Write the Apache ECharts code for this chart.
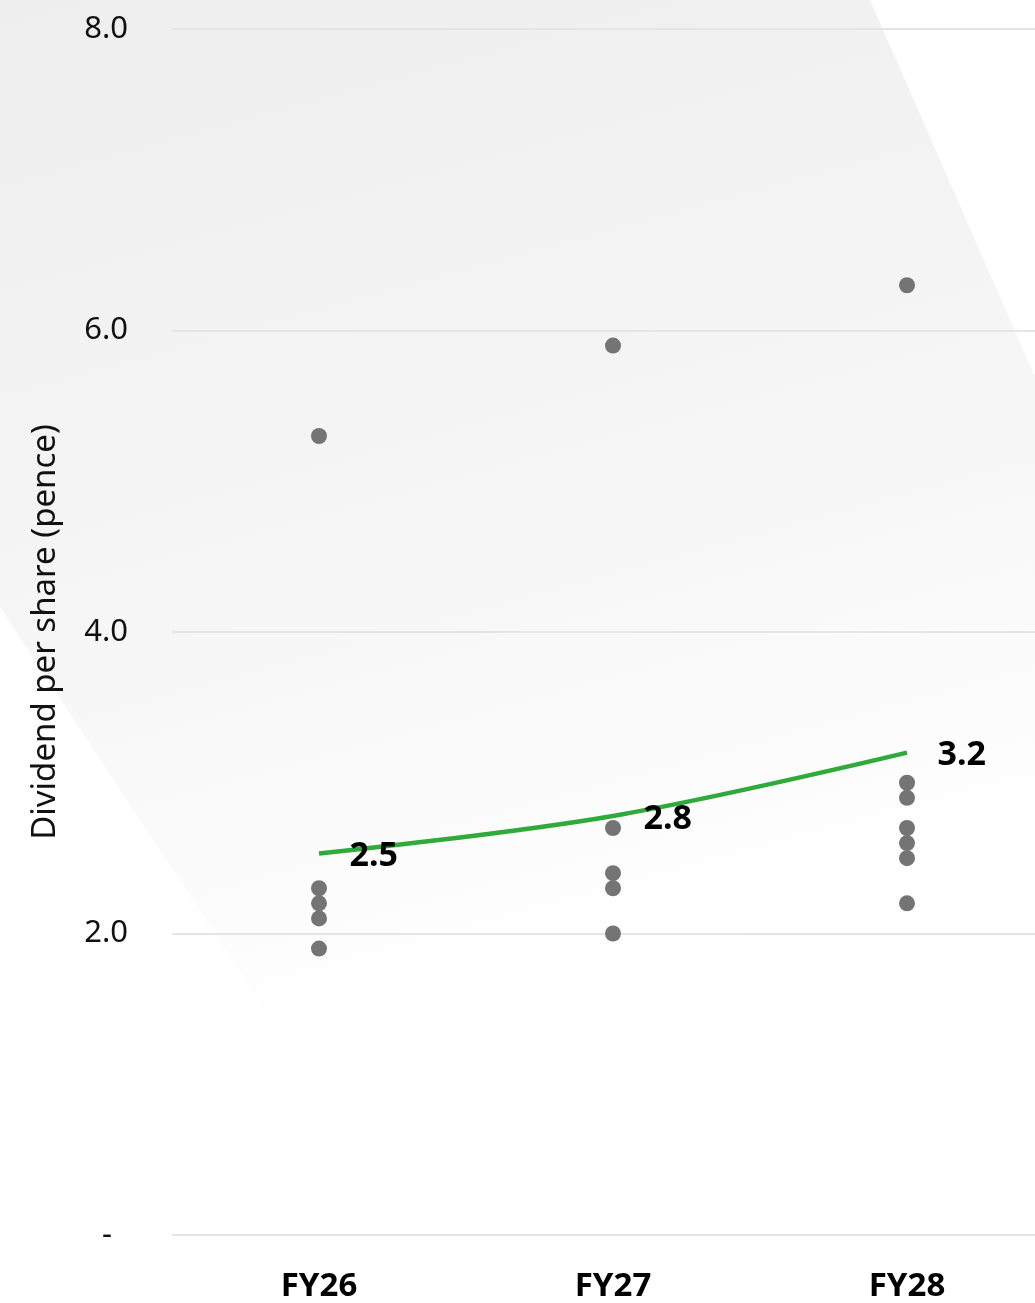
<!DOCTYPE html>
<html>
<head>
<meta charset="utf-8">
<script src="https://cdn.jsdelivr.net/npm/echarts@6/dist/echarts.min.js"></script>
<style>
html,body{margin:0;padding:0;background:#fff;overflow:hidden;}
#chart{width:1054px;height:1303px;}
</style>
</head>
<body>
<div id="chart"></div>
<script>
const categories = ['FY26', 'FY27', 'FY28'];
const yTicks = [0, 2, 4, 6, 8];
const estimatesFY26 = [5.3, 2.3, 2.2, 2.1, 1.9];
const estimatesFY27 = [5.9, 2.7, 2.4, 2.3, 2.0];
const estimatesFY28 = [6.3, 3.0, 2.9, 2.7, 2.6, 2.5, 2.2];
const consensus = [2.53, 2.78, 3.2];
const yAxisTitle = 'Dividend per share (pence)';

const estimateSets = [estimatesFY26, estimatesFY27, estimatesFY28];
const scatterData = [];
estimateSets.forEach((arr, i) => arr.forEach(v => scatterData.push([categories[i], v])));

const FONT = '"Noto Sans", "Open Sans", sans-serif';
const chart = echarts.init(document.getElementById('chart'));
chart.setOption({
  backgroundColor: '#ffffff',
  animation: false,
  graphic: {
    elements: [{
      type: 'polygon',
      z: -10,
      silent: true,
      shape: { points: [[0, 0], [870, 0], [1250, 868], [330, 1110], [0, 607]] },
      style: {
        fill: new echarts.graphic.LinearGradient(0, 0, 300, 1100, [
          { offset: 0, color: '#eeeeee' },
          { offset: 0.5, color: '#f5f5f5' },
          { offset: 0.97, color: '#ffffff' }
        ], true)
      }
    }]
  },
  grid: { left: 172, top: 29, right: 0, bottom: 68 },
  xAxis: {
    type: 'category',
    data: categories,
    boundaryGap: true,
    axisLine: { show: false },
    axisTick: { show: false },
    axisLabel: { fontFamily: FONT, fontWeight: 'bold', fontSize: 33, color: '#000', margin: 35 }
  },
  yAxis: {
    type: 'value',
    min: 0, max: 8, interval: 2,
    name: yAxisTitle,
    nameLocation: 'middle',
    nameGap: 110,
    nameTextStyle: { fontFamily: FONT, fontSize: 33, color: '#111' },
    axisLine: { show: false },
    axisTick: { show: false },
    splitLine: { lineStyle: { color: '#e5e5e5', width: 2 } },
    axisLabel: {
      fontFamily: FONT, fontSize: 31, color: '#111', margin: 44,
      formatter: v => yTicks.includes(v) ? (v === 0 ? '{d|-}' : v.toFixed(1)) : '',
      rich: { d: { fontFamily: FONT, fontSize: 31, color: '#111', padding: [0, 16, 0, 0] } }
    }
  },
  series: [
    {
      type: 'scatter',
      data: scatterData,
      symbolSize: 16,
      itemStyle: { color: '#747474', opacity: 1 },
      z: 3
    },
    {
      type: 'line',
      data: consensus,
      smooth: 0.35,
      symbol: 'circle',
      symbolSize: 1,
      showSymbol: true,
      itemStyle: { color: 'rgba(0,0,0,0)' },
      lineStyle: { color: '#2faa3b', width: 4.5 },
      label: {
        show: true,
        position: 'right',
        distance: 30,
        offset: [0, 3],
        fontFamily: FONT, fontWeight: 'bold', fontSize: 34, color: '#000',
        formatter: p => p.value.toFixed(1)
      },
      z: 4
    }
  ]
});
</script>
</body>
</html>
